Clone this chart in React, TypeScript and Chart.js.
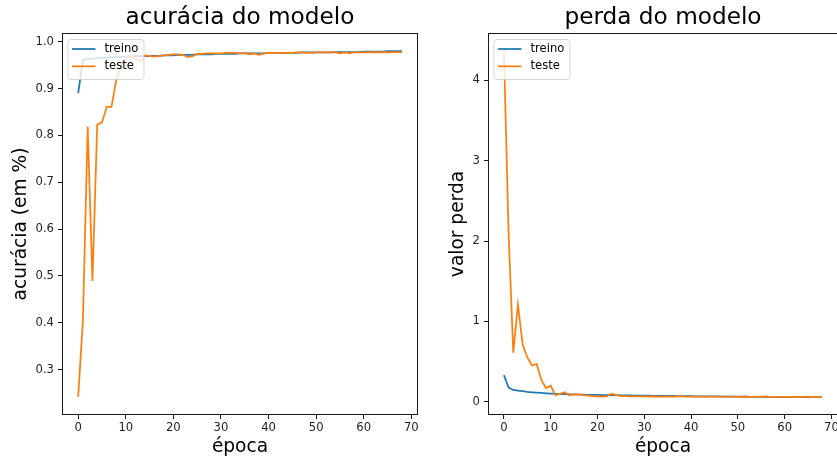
import React, { useEffect, useRef } from "react";
import { Chart, registerables } from "chart.js";

Chart.register(...registerables);

// ---------- data ----------
const epochs = [
  0, 1, 2, 3, 4, 5, 6, 7, 8, 9,
  10, 11, 12, 13, 14, 15, 16, 17, 18, 19,
  20, 21, 22, 23, 24, 25, 26, 27, 28, 29,
  30, 31, 32, 33, 34, 35, 36, 37, 38, 39,
  40, 41, 42, 43, 44, 45, 46, 47, 48, 49,
  50, 51, 52, 53, 54, 55, 56, 57, 58, 59,
  60, 61, 62, 63, 64, 65, 66, 67, 68,
];

const accTreino = [
  0.890, 0.961, 0.963, 0.964, 0.965, 0.966, 0.966, 0.967, 0.967, 0.967,
  0.968, 0.968, 0.969, 0.969, 0.969, 0.970, 0.970, 0.970, 0.971, 0.971,
  0.971, 0.972, 0.972, 0.972, 0.972, 0.973, 0.973, 0.973, 0.973, 0.974,
  0.974, 0.974, 0.974, 0.974, 0.975, 0.975, 0.975, 0.975, 0.975, 0.975,
  0.976, 0.976, 0.976, 0.976, 0.976, 0.976, 0.976, 0.977, 0.977, 0.977,
  0.977, 0.977, 0.977, 0.977, 0.978, 0.978, 0.978, 0.978, 0.978, 0.978,
  0.979, 0.979, 0.979, 0.979, 0.979, 0.980, 0.980, 0.980, 0.980,
];

const accTeste = [
  0.242, 0.406, 0.819, 0.489, 0.823, 0.828, 0.861, 0.861, 0.918, 0.948,
  0.965, 0.970, 0.965, 0.958, 0.971, 0.970, 0.968, 0.970, 0.971, 0.972,
  0.973, 0.973, 0.972, 0.967, 0.969, 0.974, 0.974, 0.975, 0.975, 0.975,
  0.975, 0.976, 0.976, 0.976, 0.975, 0.976, 0.973, 0.975, 0.972, 0.975,
  0.976, 0.976, 0.976, 0.976, 0.976, 0.976, 0.977, 0.977, 0.976, 0.976,
  0.977, 0.977, 0.977, 0.977, 0.977, 0.975, 0.977, 0.975, 0.977, 0.977,
  0.977, 0.977, 0.978, 0.977, 0.978, 0.977, 0.978, 0.978, 0.978,
];

const lossTreino = [
  0.330, 0.175, 0.146, 0.138, 0.130, 0.122, 0.117, 0.113, 0.108, 0.104,
  0.100, 0.097, 0.095, 0.093, 0.091, 0.090, 0.088, 0.087, 0.086, 0.085,
  0.084, 0.083, 0.082, 0.081, 0.080, 0.079, 0.078, 0.077, 0.076, 0.075,
  0.075, 0.074, 0.073, 0.073, 0.072, 0.071, 0.071, 0.070, 0.069, 0.069,
  0.068, 0.067, 0.067, 0.066, 0.066, 0.065, 0.065, 0.064, 0.064, 0.063,
  0.063, 0.062, 0.062, 0.061, 0.061, 0.060, 0.060, 0.059, 0.059, 0.058,
  0.058, 0.058, 0.057, 0.057, 0.056, 0.056, 0.056, 0.055, 0.055,
];

const lossTeste = [
  4.380, 2.100, 0.610, 1.210, 0.710, 0.550, 0.450, 0.470, 0.270, 0.170,
  0.200, 0.080, 0.097, 0.117, 0.080, 0.090, 0.090, 0.080, 0.075, 0.070,
  0.066, 0.063, 0.065, 0.098, 0.085, 0.068, 0.068, 0.066, 0.067, 0.065,
  0.066, 0.064, 0.065, 0.063, 0.064, 0.066, 0.063, 0.065, 0.068, 0.064,
  0.063, 0.062, 0.063, 0.061, 0.062, 0.063, 0.061, 0.062, 0.064, 0.062,
  0.061, 0.062, 0.060, 0.059, 0.061, 0.062, 0.066, 0.060, 0.061, 0.059,
  0.060, 0.059, 0.058, 0.059, 0.060, 0.062, 0.058, 0.058, 0.058,
];

const seriesLabels = ["treino", "teste"];
const titles = ["acurácia do modelo", "perda do modelo"];
const yTitles = ["acurácia (em %)", "valor perda"];
const xTitle = "época";

// ---------- styles ----------
const FONT = "'DejaVu Sans', sans-serif";
const BLUE = "#1f77b4";
const ORANGE = "#ff7f0e";
const INK = "#1a1a1a";

const mplDecor = {
  id: "mplDecor",
  afterDatasetsDraw(chart: any) {
    const { ctx, chartArea } = chart;
    const { left, top, right, bottom } = chartArea;
    ctx.save();
    // axes frame
    ctx.strokeStyle = INK;
    ctx.lineWidth = 1;
    ctx.strokeRect(left + 0.5, top + 0.5, right - left - 1, bottom - top - 1);

    // legend (upper left)
    const x0 = left + 6;
    const y0 = top + 6.5;
    const w = 76;
    const h = 40;
    const r = 3;
    ctx.beginPath();
    ctx.moveTo(x0 + r, y0);
    ctx.lineTo(x0 + w - r, y0);
    ctx.arcTo(x0 + w, y0, x0 + w, y0 + r, r);
    ctx.lineTo(x0 + w, y0 + h - r);
    ctx.arcTo(x0 + w, y0 + h, x0 + w - r, y0 + h, r);
    ctx.lineTo(x0 + r, y0 + h);
    ctx.arcTo(x0, y0 + h, x0, y0 + h - r, r);
    ctx.lineTo(x0, y0 + r);
    ctx.arcTo(x0, y0, x0 + r, y0, r);
    ctx.closePath();
    ctx.fillStyle = "rgba(255,255,255,0.8)";
    ctx.fill();
    ctx.strokeStyle = "rgba(204,204,204,0.8)";
    ctx.lineWidth = 1;
    ctx.stroke();

    chart.data.datasets.forEach((ds: any, i: number) => {
      const yy = y0 + 9.5 + i * 17.3;
      ctx.strokeStyle = ds.borderColor;
      ctx.lineWidth = 1.75;
      ctx.beginPath();
      ctx.moveTo(x0 + 4, yy);
      ctx.lineTo(x0 + 27.5, yy);
      ctx.stroke();
      ctx.fillStyle = "#000";
      ctx.font = `11.6px ${FONT}`;
      ctx.textBaseline = "middle";
      ctx.textAlign = "left";
      ctx.fillText(ds.label, x0 + 36.5, yy);
    });
    ctx.restore();
  },
};

function makeConfig(
  title: string,
  yTitle: string,
  a: number[],
  b: number[],
  yMin: number,
  yMax: number,
  yStep: number,
  yDecimals: number,
  yAxisWidth: number,
  yTitlePad: number
): any {
  return {
    type: "line",
    data: {
      labels: epochs,
      datasets: [
        {
          label: seriesLabels[0],
          data: a,
          borderColor: BLUE,
          backgroundColor: BLUE,
          borderWidth: 1.75,
          pointRadius: 0,
          tension: 0,
          fill: false,
          order: 1,
        },
        {
          label: seriesLabels[1],
          data: b,
          borderColor: ORANGE,
          backgroundColor: ORANGE,
          borderWidth: 1.75,
          pointRadius: 0,
          tension: 0,
          fill: false,
          order: 0,
        },
      ],
    },
    options: {
      animation: false,
      responsive: false,
      events: [],
      layout: { padding: { left: 0, right: 22, top: 0, bottom: 0 } },
      plugins: {
        legend: { display: false },
        tooltip: { enabled: false },
        title: {
          display: true,
          text: title,
          color: "#000",
          fullSize: false,
          font: { family: FONT, size: 23.2, weight: "normal", lineHeight: 1.2 },
          padding: { top: 4, bottom: 1.16 },
        },
      },
      scales: {
        x: {
          type: "linear",
          min: -3.4,
          max: 71.4,
          afterFit: (s: any) => {
            s.height = 48;
          },
          border: { display: false },
          grid: {
            display: true,
            drawOnChartArea: false,
            drawTicks: true,
            tickLength: 4,
            color: INK,
            tickWidth: 1,
          },
          ticks: {
            stepSize: 10,
            includeBounds: false,
            padding: 2,
            color: "#222",
            font: { family: FONT, size: 11.6 },
            maxRotation: 0,
            autoSkip: false,
            callback: (v: any) => String(Math.round(v)),
          },
          title: {
            display: true,
            text: xTitle,
            color: "#000",
            font: { family: FONT, size: 18.6, lineHeight: 1.2 },
            padding: { top: 0, bottom: 4.3 },
          },
        },
        y: {
          type: "linear",
          min: yMin,
          max: yMax,
          afterFit: (s: any) => {
            s.width = yAxisWidth;
          },
          border: { display: false },
          grid: {
            display: true,
            drawOnChartArea: false,
            drawTicks: true,
            tickLength: 4,
            color: INK,
            tickWidth: 1,
          },
          ticks: {
            stepSize: yStep,
            includeBounds: false,
            padding: 4,
            color: "#222",
            font: { family: FONT, size: 11.6 },
            autoSkip: false,
            callback: (v: any) => Number(v).toFixed(yDecimals),
          },
          title: {
            display: true,
            text: yTitle,
            color: "#000",
            font: { family: FONT, size: 18.6, lineHeight: 1.2 },
            padding: { top: yTitlePad, bottom: 0 },
          },
        },
      },
    },
    plugins: [mplDecor],
  };
}

function Panel(props: { left: number; width: number; build: () => any }) {
  const ref = useRef<HTMLCanvasElement | null>(null);
  useEffect(() => {
    if (!ref.current) return;
    const chart = new Chart(ref.current, props.build());
    return () => chart.destroy();
  }, []);
  return (
    <canvas
      ref={ref}
      width={props.width}
      height={463}
      style={{
        position: "absolute",
        left: props.left,
        top: 0,
        width: props.width,
        height: 463,
      }}
    />
  );
}

export default function App() {
  return (
    <div
      style={{
        position: "absolute",
        left: 0,
        top: 0,
        width: 837,
        height: 463,
        overflow: "hidden",
        background: "#fff",
      }}
    >
      <Panel
        left={0}
        width={440}
        build={() =>
          makeConfig(titles[0], yTitles[0], accTreino, accTeste, 0.203, 1.0186, 0.1, 1, 62, 10.5)
        }
      />
      <Panel
        left={440}
        width={420}
        build={() =>
          makeConfig(titles[1], yTitles[1], lossTreino, lossTeste, -0.166, 4.59, 1, 0, 48, 7)
        }
      />
    </div>
  );
}
